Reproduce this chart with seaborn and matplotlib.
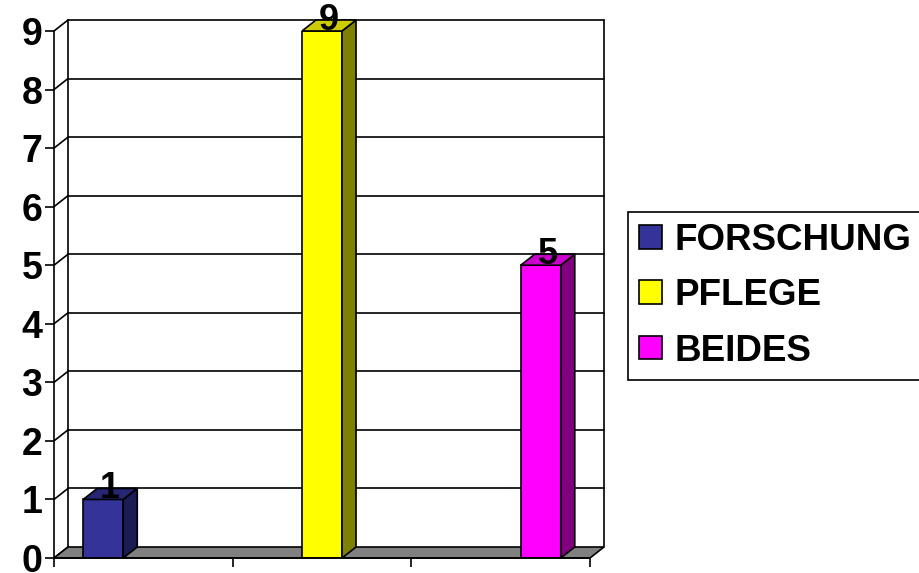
import matplotlib
matplotlib.use("Agg")
import matplotlib.pyplot as plt
from matplotlib.patches import Polygon, Patch
import seaborn as sns
import pandas as pd

categories = ["FORSCHUNG", "PFLEGE", "BEIDES"]
values = [1, 9, 5]
front_colors = ["#333399", "#FFFF00", "#FF00FF"]
side_colors = ["#1C1C55", "#808000", "#800080"]
top_colors = ["#262673", "#CCCC00", "#CC00CC"]
y_ticks = list(range(0, 10))

sns.set_style("white")
plt.rcParams["font.family"] = ["Liberation Sans", "DejaVu Sans"]
plt.rcParams["font.weight"] = "bold"
plt.rcParams["text.color"] = "black"
plt.rcParams["xtick.color"] = "black"
plt.rcParams["ytick.color"] = "black"

W, H = 919, 573
fig = plt.figure(figsize=(W / 100, H / 100), dpi=100)
# front plane of the pseudo-3D box, in pixels
left_px, right_px, bottom_px, top_px = 54, 590, 558, 31
ax = fig.add_axes([left_px / W, (H - bottom_px) / H,
                   (right_px - left_px) / W, (bottom_px - top_px) / H])
ax.set_facecolor("none")

xmin, xmax = -0.2251, 2.2251
ymax = 9

# depth offset (pixels -> data units)
dx = 14 * (xmax - xmin) / (right_px - left_px)
dy = 11 * ymax / (bottom_px - top_px)

df = pd.DataFrame({"cat": categories, "val": values})
sns.barplot(data=df, x="cat", y="val", hue="cat", palette=front_colors,
            saturation=1, width=0.183, edgecolor="black", linewidth=1.2,
            legend=False, ax=ax, zorder=3)
ax.set_xlim(xmin, xmax)
ax.set_ylim(0, ymax)

lw = 1.2
kw = dict(color="black", lw=lw, clip_on=False)

# floor
ax.add_patch(Polygon([(xmin, 0), (xmax, 0), (xmax + dx, dy), (xmin + dx, dy)],
                     closed=True, facecolor="#808080", edgecolor="black",
                     lw=lw, clip_on=False, zorder=1))
# back wall gridlines and side wall
for k in y_ticks:
    if k > 0:
        ax.plot([xmin + dx, xmax + dx], [k + dy, k + dy], zorder=0.5, **kw)
    ax.plot([xmin, xmin + dx], [k, k + dy], zorder=0.5, **kw)
ax.plot([xmin + dx, xmin + dx], [dy, ymax + dy], zorder=0.5, **kw)
ax.plot([xmax + dx, xmax + dx], [dy, ymax + dy], zorder=0.5, **kw)

# 3D faces of the bars
for i, bar in enumerate(ax.patches[:len(values)]):
    x0 = bar.get_x()
    x1 = x0 + bar.get_width()
    h = bar.get_height()
    bar.set_zorder(3)
    ax.add_patch(Polygon([(x1, 0), (x1 + dx, dy), (x1 + dx, h + dy), (x1, h)],
                         closed=True, facecolor=side_colors[i], edgecolor="black",
                         lw=lw, zorder=3, clip_on=False))
    ax.add_patch(Polygon([(x0, h), (x1, h), (x1 + dx, h + dy), (x0 + dx, h + dy)],
                         closed=True, facecolor=top_colors[i], edgecolor="black",
                         lw=lw, zorder=3, clip_on=False))
    ax.text((x0 + x1) / 2 + dx / 2, h + dy, str(values[i]), ha="center",
            va="center", fontsize=26, fontweight="bold", color="black",
            zorder=5, clip_on=False)

# axes
for s in ["top", "right"]:
    ax.spines[s].set_visible(False)
for s in ["left", "bottom"]:
    ax.spines[s].set_color("black")
    ax.spines[s].set_linewidth(lw)
    ax.spines[s].set_zorder(4)
ax.set_yticks(y_ticks)
ax.set_yticklabels([str(t) for t in y_ticks], fontsize=27, fontweight="bold")
ax.set_xticks([xmin + k * (xmax - xmin) / 3 for k in range(4)])
ax.set_xticklabels([])
ax.tick_params(axis="both", direction="out", length=6.5, width=lw,
               color="black", labelcolor="black", pad=2,
               left=True, bottom=True)
ax.set_xlabel("")
ax.set_ylabel("")

handles = [Patch(facecolor=c, edgecolor="black", lw=1.2) for c in front_colors]
leg = fig.legend(handles, categories, loc="upper left",
                 bbox_to_anchor=(628 / W, 1 - 212 / H), frameon=True,
                 fancybox=False, shadow=False, framealpha=1,
                 prop={"size": 26.5, "weight": "bold"},
                 handlelength=0.62, handleheight=0.62, handletextpad=0.35,
                 labelspacing=0.55, borderpad=0.3, borderaxespad=0)
leg.get_frame().set_edgecolor("black")
leg.get_frame().set_linewidth(1.2)
for t in leg.get_texts():
    t.set_color("black")

fig.savefig("out.png", dpi=100)
